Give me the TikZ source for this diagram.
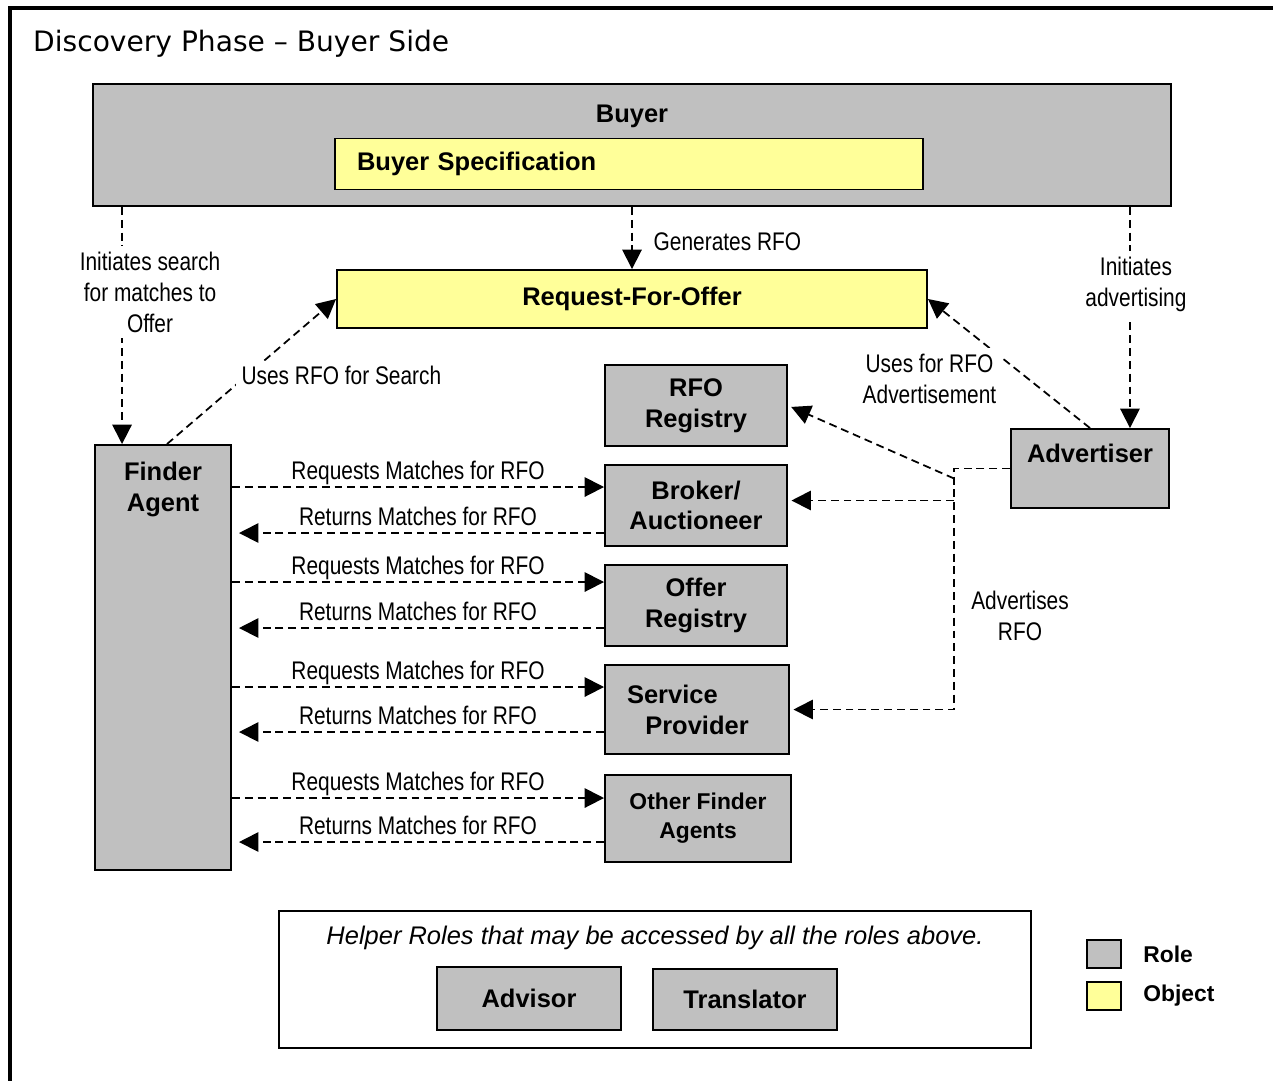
\documentclass[tikz,border=0pt]{standalone}
\usepackage{fontspec}
\setmainfont{Liberation Sans}
\newfontfamily\narrowfont{Liberation Sans}[FakeStretch=0.82]
\newfontfamily\titlefont{DejaVu Sans}
\usetikzlibrary{arrows.meta,positioning,calc}
\definecolor{rolegray}{HTML}{C0C0C0}
\definecolor{objyellow}{HTML}{FFFF99}

\begin{document}
\begin{tikzpicture}[x=0.02cm, y=-0.02cm,
  rfont/.style={font=\bfseries\fontsize{14.5}{17.5}\selectfont},
  box/.style 2 args={draw, line width=1.1pt, inner sep=2pt, align=center, rfont,
    minimum width=#1*0.02cm, minimum height=#2*0.02cm},
  role/.style={fill=rolegray},
  object/.style={fill=objyellow},
  lbl/.style={font=\narrowfont\fontsize{14.5}{17.5}\selectfont, align=center},
  flow/.style={line width=1pt, dash pattern=on 4.5pt off 2.8pt,
    -{Triangle[length=11pt,width=11pt]}}]
\useasboundingbox (0,0) rectangle (1273,1080);
\draw[line width=2.2pt] (10,1120) -- (10,8) -- (1300,8);
\node[anchor=west, font=\titlefont\fontsize{16}{19}\selectfont] (title) at (27,44)
  {Discovery Phase – Buyer Side};

% buyer and objects
\node[box={1078}{122}, role,
  label={[rfont, anchor=center, yshift=-19pt]north:Buyer}] (buyer) at (632,145) {};
\node[box={588}{51}, object, text width=10.88cm, inner xsep=0.44cm, align=left]
  (spec) at (629,164) {Buyer Specification};
\node[box={590}{58}, object] (rfo) at (632,299) {Request-For-Offer};

% roles
\node[box={182}{81}, role] (rforeg) at (696,405.5) {RFO\\Registry};
\node[box={182}{81}, role] (broker) at (696,505.5) {Broker/\\Auctioneer};
\node[box={182}{81}, role] (offerreg) at (696,605.5) {Offer\\Registry};
\node[box={184}{89}, role] (service) at (697,709.5) {Service\hspace*{28pt}\mbox{}\\Provider};
\node[box={186}{87}, role, font=\bfseries\fontsize{13}{16.5}\selectfont]
  (other) at (698,818.5) {Other Finder\\Agents};
\node[box={136}{425}, role,
  label={[rfont, anchor=center, align=center, yshift=-25.8pt]north:Finder\\Agent}]
  (finder) at (163,657.5) {};
\node[box={158}{79}, role,
  label={[rfont, anchor=center, yshift=-14.6pt]north:Advertiser}]
  (advertiser) at (1090,468.5) {};

% helper roles
\node[box={752}{137},
  label={[anchor=center, yshift=-15.9pt, font=\itshape\fontsize{14.5}{17.5}\selectfont]north:Helper Roles that may be accessed by all the roles above.}]
  (helper) at (655,979.5) {};
\node[box={184}{63}, role] (advisor) at (529,998.5) {Advisor};
\node[box={184}{61}, role] (translator) at (745,999.5) {Translator};

% legend
\node[box={34}{28}, role] (legrole) at (1104,954) {};
\node[font=\bfseries\fontsize{13}{16}\selectfont, inner sep=0pt, right=0.42cm of legrole]
  (legroletxt) {Role};
\node[box={34}{28}, object] (legobj) at (1104,996) {};
\node[font=\bfseries\fontsize{13}{16}\selectfont, inner sep=0pt, right=0.42cm of legobj]
  (legobjtxt) {Object};

% buyer side flows
\coordinate (fa) at ($(finder.north west)+(28,0)$);
\draw[flow] (fa |- buyer.south) -- (fa)
  node[lbl, fill=white, pos=0.36, xshift=0.56cm] (lsearch) {Initiates search\\for matches to\\Offer};
\draw[flow] (rfo.north |- buyer.south) -- (rfo.north)
  node[lbl, midway, right, xshift=0.3cm, yshift=-2pt] (lgen) {Generates RFO};
\coordinate (ad) at ($(advertiser.north east)+(-40,0)$);
\draw[flow] (ad |- buyer.south) -- (ad)
  node[lbl, fill=white, pos=0.35, xshift=0.12cm] (linit) {Initiates\\advertising};
\draw[flow] ($(finder.north)+(4,0)$) -- (rfo.west)
  node[lbl, fill=white, pos=0.47, xshift=1.9cm] (luse) {Uses RFO for Search};
\draw[flow] (advertiser.north) -- (rfo.east)
  node[lbl, fill=white, pos=0.38, xshift=-1.98cm] (ladv) {Uses for RFO\\Advertisement};

% advertiser
\draw[flow, shorten >=2pt] (advertiser.west) -- ++(-56,0) coordinate (corner)
  -- (corner |- service.east)
  node[lbl, pos=0.61, xshift=1.32cm] (ladvrfo) {Advertises\\RFO}
  -- (service.east);
\coordinate (bk) at ($(broker.east)+(0,-5)$);
\draw[flow, shorten >=2pt] (corner |- bk) -- (bk);
\draw[flow, shorten >=2pt] ($(corner)+(0,10)$) -- (rforeg.east);

% finder agent requests
\foreach \t/\dr/\dt in {broker/-18.5/27.5, offerreg/-23.5/22.5,
                        service/-22.5/22.5, other/-20.5/23.5}{
  \coordinate (rq) at ($(\t.west)+(0,\dr)$);
  \coordinate (rt) at ($(\t.west)+(0,\dt)$);
  \draw[flow] (rq -| finder.east) -- (rq)
    node[lbl, midway, above, inner sep=1pt, text depth=0.25em] {Requests Matches for RFO};
  \draw[flow, shorten >=4pt] (rt) -- (rt -| finder.east)
    node[lbl, midway, above, inner sep=1pt, text depth=0.25em] {Returns Matches for RFO};
}
\end{tikzpicture}
\end{document}
